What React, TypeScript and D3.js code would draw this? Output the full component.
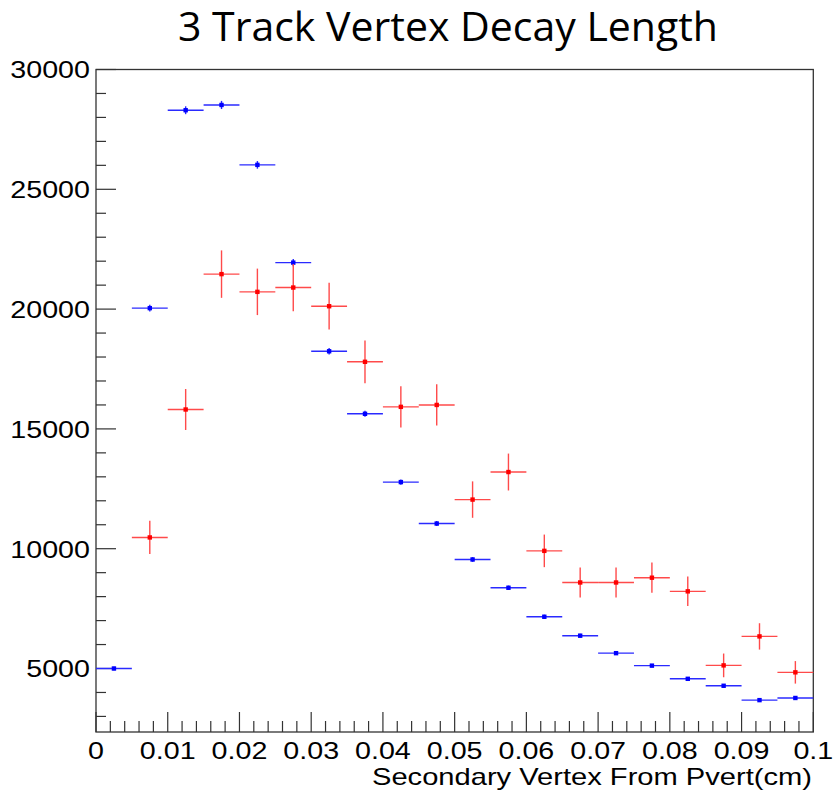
import React from "react";
import * as d3 from "d3";

// Histogram bins: centres (cm), each bin 0.005 cm wide
const binCenters = [
  0.0025, 0.0075, 0.0125, 0.0175, 0.0225, 0.0275, 0.0325, 0.0375, 0.0425, 0.0475,
  0.0525, 0.0575, 0.0625, 0.0675, 0.0725, 0.0775, 0.0825, 0.0875, 0.0925, 0.0975,
];
const binWidth = 0.005;

// Blue series: counts and statistical errors, one per bin
const blueCounts = [
  5000, 20040, 28300, 28520, 26020, 21940, 18240, 15630, 12780, 11050,
  9550, 8370, 7160, 6370, 5640, 5120, 4570, 4280, 3680, 3770,
];
const blueErrors = [
  70, 140, 165, 170, 160, 150, 135, 125, 113, 105,
  98, 91, 85, 80, 75, 72, 68, 65, 61, 61,
];

// Red series starts in the second bin
const redCenters = [
  0.0075, 0.0125, 0.0175, 0.0225, 0.0275, 0.0325, 0.0375, 0.0425, 0.0475, 0.0525,
  0.0575, 0.0625, 0.0675, 0.0725, 0.0775, 0.0825, 0.0875, 0.0925, 0.0975,
];
const redCounts = [
  10470, 15810, 21460, 20720, 20900, 20120, 17800, 15920, 16000, 12050,
  13200, 9910, 8590, 8590, 8790, 8220, 5130, 6340, 4840,
];
const redErrors = [
  695, 855, 990, 970, 985, 975, 890, 860, 860, 760,
  770, 680, 625, 625, 630, 615, 495, 550, 470,
];

const xMajorTicks = [0, 0.01, 0.02, 0.03, 0.04, 0.05, 0.06, 0.07, 0.08, 0.09, 0.1];
const xTickLabels = ["0", "0.01", "0.02", "0.03", "0.04", "0.05", "0.06", "0.07", "0.08", "0.09", "0.1"];
const yMajorTicks = [5000, 10000, 15000, 20000, 25000, 30000];
const yTickLabels = ["5000", "10000", "15000", "20000", "25000", "30000"];

const W = 836;
const H = 794;
const left = 96;
const right = 813.3;
const top = 69.5;
const bottom = 732;

const x = d3.scaleLinear().domain([0, 0.1]).range([left, right]);
const y = d3.scaleLinear().domain([2350, 30000]).range([bottom, top]);

const labelFont = "'Liberation Sans', Arial, Helvetica, sans-serif";
const stretch = 1.17;

function Series({
  centers,
  counts,
  errors,
  color,
  lineColor,
}: {
  centers: number[];
  counts: number[];
  errors: number[];
  color: string;
  lineColor: string;
}) {
  return (
    <g>
      {centers.map((c, i) => {
        const cx = x(c);
        const cy = y(counts[i]);
        return (
          <g key={i}>
            <line
              x1={x(c - binWidth / 2)}
              x2={x(c + binWidth / 2)}
              y1={cy}
              y2={cy}
              stroke={lineColor}
              strokeWidth={1.4}
            />
            <line
              x1={cx}
              x2={cx}
              y1={y(counts[i] + errors[i])}
              y2={y(counts[i] - errors[i])}
              stroke={lineColor}
              strokeWidth={1.4}
            />
            <rect x={cx - 2.2} y={cy - 2.2} width={4.4} height={4.4} fill={color} />
          </g>
        );
      })}
    </g>
  );
}

export default function App() {
  const xMinor = d3.range(0, 0.1001, 0.002);
  const yMinor = d3.range(3000, 30001, 1000);

  return (
    <svg
      width={W}
      height={H}
      viewBox={`0 0 ${W} ${H}`}
      style={{ position: "absolute", left: 0, top: 0, background: "#fff" }}
    >
      <rect width={W} height={H} fill="#fff" />

      {/* title */}
      <text
        x={178}
        y={41}
        fontFamily="'Open Sans', 'Noto Sans', sans-serif"
        fontSize={41}
        textLength={540}
        lengthAdjust="spacingAndGlyphs"
        fill="#000"
      >
        3 Track Vertex Decay Length
      </text>

      {/* frame */}
      <rect
        x={left}
        y={top}
        width={right - left}
        height={bottom - top}
        fill="none"
        stroke="#333"
        strokeWidth={1.3}
      />

      {/* x ticks */}
      {xMinor.map((t, i) => {
        const major = i % 5 === 0;
        return (
          <line
            key={"xt" + i}
            x1={x(t)}
            x2={x(t)}
            y1={bottom}
            y2={bottom - (major ? 20 : 11)}
            stroke="#333"
            strokeWidth={1.2}
          />
        );
      })}
      {/* y ticks */}
      {yMinor.map((t, i) => {
        const major = t % 5000 === 0;
        return (
          <line
            key={"yt" + i}
            x1={left}
            x2={left + (major ? 20 : 10)}
            y1={y(t)}
            y2={y(t)}
            stroke="#333"
            strokeWidth={1.2}
          />
        );
      })}

      {/* x tick labels */}
      {xMajorTicks.map((t, i) => (
        <text
          key={"xl" + i}
          transform={`translate(${x(t)},${759}) scale(${stretch},1)`}
          textAnchor="middle"
          fontFamily={labelFont}
          fontSize={24.5}
          fill="#000"
        >
          {xTickLabels[i]}
        </text>
      ))}
      {/* y tick labels */}
      {yMajorTicks.map((t, i) => (
        <text
          key={"yl" + i}
          transform={`translate(${90},${y(t) + 8.8}) scale(${stretch},1)`}
          textAnchor="end"
          fontFamily={labelFont}
          fontSize={24.5}
          fill="#000"
        >
          {yTickLabels[i]}
        </text>
      ))}

      {/* x axis title */}
      <text
        x={812}
        y={785}
        textAnchor="end"
        fontFamily={labelFont}
        fontSize={24}
        textLength={440}
        lengthAdjust="spacingAndGlyphs"
        fill="#000"
      >
        Secondary Vertex From Pvert(cm)
      </text>

      <Series
        centers={binCenters}
        counts={blueCounts}
        errors={blueErrors}
        color="#0000ff"
        lineColor="#2a2aff"
      />
      <Series
        centers={redCenters}
        counts={redCounts}
        errors={redErrors}
        color="#ff0000"
        lineColor="#ff4a4a"
      />
    </svg>
  );
}
